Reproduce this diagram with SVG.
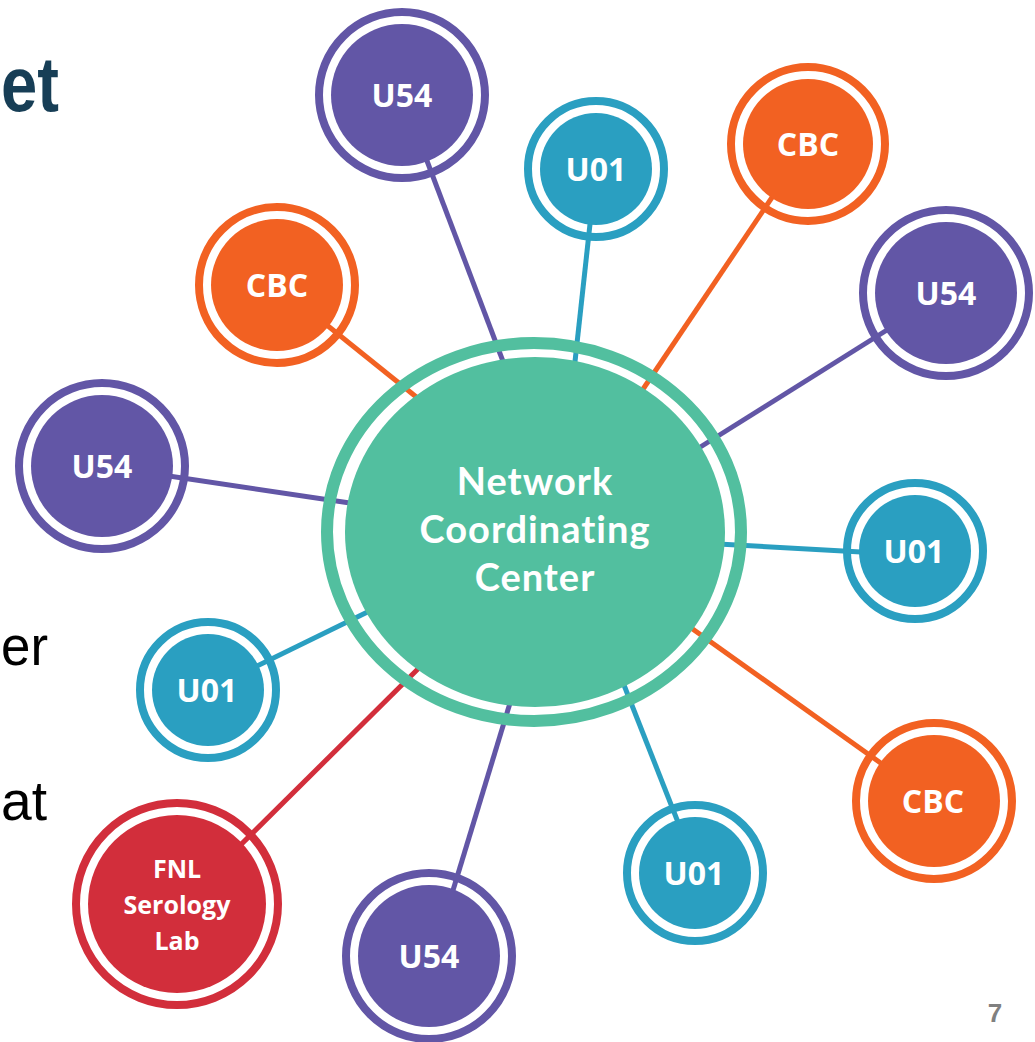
<svg xmlns="http://www.w3.org/2000/svg" width="1035" height="1042" viewBox="0 0 1035 1042">
<style>
.ring{fill:none;stroke-width:8}
.lbl{font-family:"Open Sans","Liberation Sans",sans-serif;font-weight:bold;font-size:32px;fill:#ffffff;text-anchor:middle}
.fnl{font-size:25px}
.ctr{font-family:Lato,"Open Sans","Liberation Sans",sans-serif;font-weight:bold;font-size:38px;fill:#ffffff;text-anchor:middle;letter-spacing:1px}
.slide{font-family:"Liberation Sans",Arial,sans-serif;font-size:56px;fill:#000000}
.pu{stroke:#6256A6}.bl{stroke:#2A9FC1}.or{stroke:#F26122}.rd{stroke:#D22E3B}
.fpu{fill:#6256A6}.fbl{fill:#2A9FC1}.for{fill:#F26122}.frd{fill:#D22E3B}
#connectors line{stroke-width:5}
</style>
<rect width="1035" height="1042" fill="#ffffff"/>
<text x="1" y="111" font-family="Liberation Sans,Arial,sans-serif" font-weight="bold" font-size="78" fill="#173E56" textLength="58" lengthAdjust="spacingAndGlyphs">et</text>
<text class="slide" x="1" y="665" textLength="47" lengthAdjust="spacingAndGlyphs">er</text>
<text class="slide" x="1" y="820" textLength="46" lengthAdjust="spacingAndGlyphs">at</text>
<text x="995" y="1022" font-family="Liberation Sans,Arial,sans-serif" font-weight="bold" font-size="26" fill="#808080" text-anchor="middle">7</text>
<g id="connectors">
<line class="pu" x1="402" y1="95" x2="512" y2="385"/>
<line class="bl" x1="596" y1="169" x2="573" y2="380"/>
<line class="or" x1="808" y1="144" x2="631" y2="407"/>
<line class="pu" x1="946" y1="293" x2="686" y2="456"/>
<line class="or" x1="277" y1="285" x2="430" y2="408"/>
<line class="pu" x1="102" y1="466" x2="370" y2="506"/>
<line class="bl" x1="915" y1="555" x2="700" y2="543"/>
<line class="bl" x1="208" y1="690" x2="390" y2="601"/>
<line class="or" x1="934" y1="801" x2="680" y2="620"/>
<line class="rd" x1="177" y1="908" x2="430" y2="657"/>
<line class="pu" x1="433" y1="956" x2="517" y2="680"/>
<line class="bl" x1="698" y1="873" x2="622" y2="680"/>
</g>
<g id="center">
<ellipse cx="534" cy="532" rx="207" ry="189" fill="none" stroke="#52BF9F" stroke-width="12"/>
<ellipse cx="535" cy="532" rx="190" ry="175" fill="#52BF9F"/>
<text class="ctr" x="535" y="495">Network</text>
<text class="ctr" x="535" y="543">Coordinating</text>
<text class="ctr" x="535" y="591">Center</text>
</g>
<g id="u54-top"><circle class="ring pu" cx="402" cy="95" r="83"/><circle class="fpu" cx="402" cy="95" r="71"/><text class="lbl" x="402" y="107">U54</text></g>
<g id="u01-top"><circle class="ring bl" cx="596" cy="169" r="68"/><circle class="fbl" cx="596" cy="169" r="56"/><text class="lbl" x="596" y="181">U01</text></g>
<g id="cbc-top"><circle class="ring or" cx="808" cy="144" r="77"/><circle class="for" cx="808" cy="144" r="65"/><text class="lbl" x="808" y="156">CBC</text></g>
<g id="u54-right"><circle class="ring pu" cx="946" cy="293" r="83"/><circle class="fpu" cx="946" cy="293" r="71"/><text class="lbl" x="946" y="305">U54</text></g>
<g id="cbc-left"><circle class="ring or" cx="277" cy="285" r="78"/><circle class="for" cx="277" cy="285" r="66"/><text class="lbl" x="277" y="297">CBC</text></g>
<g id="u54-left"><circle class="ring pu" cx="102" cy="466" r="83"/><circle class="fpu" cx="102" cy="466" r="71"/><text class="lbl" x="102" y="478">U54</text></g>
<g id="u01-right"><circle class="ring bl" cx="915" cy="551" r="68"/><circle class="fbl" cx="915" cy="551" r="56"/><text class="lbl" x="914" y="563">U01</text></g>
<g id="u01-left"><circle class="ring bl" cx="208" cy="690" r="68"/><circle class="fbl" cx="208" cy="690" r="56"/><text class="lbl" x="207" y="702">U01</text></g>
<g id="cbc-right"><circle class="ring or" cx="934" cy="801" r="78"/><circle class="for" cx="934" cy="801" r="66"/><text class="lbl" x="933" y="813">CBC</text></g>
<g id="fnl"><circle class="ring rd" cx="177" cy="904" r="101"/><circle class="frd" cx="177" cy="904" r="89"/><text class="lbl fnl" x="177" y="878">FNL</text><text class="lbl fnl" x="177" y="914">Serology</text><text class="lbl fnl" x="177" y="950">Lab</text></g>
<g id="u54-bottom"><circle class="ring pu" cx="429" cy="956" r="83"/><circle class="fpu" cx="429" cy="956" r="71"/><text class="lbl" x="429" y="968">U54</text></g>
<g id="u01-bottom"><circle class="ring bl" cx="695" cy="873" r="68"/><circle class="fbl" cx="695" cy="873" r="56"/><text class="lbl" x="694" y="885">U01</text></g>
</svg>
